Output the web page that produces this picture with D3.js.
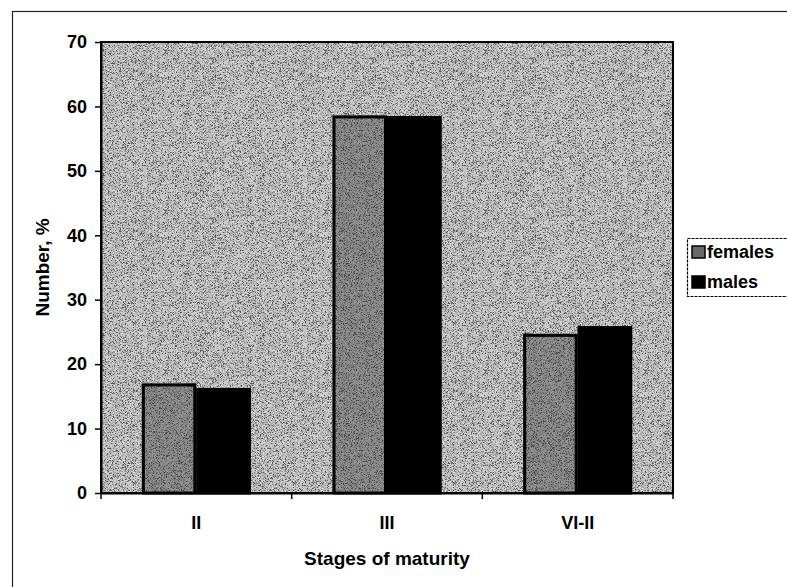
<!DOCTYPE html>
<html>
<head>
<meta charset="utf-8">
<script src="https://cdn.jsdelivr.net/npm/d3@7/dist/d3.min.js"></script>
<style>
  html, body { margin: 0; padding: 0; background: #ffffff; }
  svg { display: block; }
  text { font-family: "Liberation Sans", Arial, sans-serif; font-weight: bold; fill: #000; }
</style>
</head>
<body>
<svg id="chart" width="787" height="587"></svg>
<script>
// ---- data ----
const categories = ["II", "III", "VI-II"];
const seriesNames = ["females", "males"];
const females = [17.0, 58.6, 24.7];
const males = [16.3, 58.5, 25.9];
const yTicks = [0, 10, 20, 30, 40, 50, 60, 70];
const xTitle = "Stages of maturity";
const yTitle = "Number, %";

// ---- layout ----
const W = 787, H = 587;
const plot = { left: 101, right: 673, top: 42, bottom: 493 };
const colors = { females: "#6a6a6a", males: "#000000" };

const svg = d3.select("#chart");

// filter for scanned speckle texture
const defs = svg.append("defs");
const f = defs.append("filter").attr("id", "speckle")
  .attr("x", 0).attr("y", 0).attr("width", 1).attr("height", 1)
  .attr("filterUnits", "objectBoundingBox");
f.append("feTurbulence").attr("type", "fractalNoise").attr("baseFrequency", 1.6)
  .attr("numOctaves", 1).attr("seed", 7).attr("result", "t");
f.append("feColorMatrix").attr("in", "t").attr("type", "matrix")
  .attr("values", "3.6 0 0 0 -1.3  3.6 0 0 0 -1.3  3.6 0 0 0 -1.3  0 0 0 0 1");

// outer chart border
svg.append("rect")
  .attr("x", 12.5).attr("y", 11.5).attr("width", W + 20).attr("height", H + 20)
  .attr("fill", "none").attr("stroke", "#222").attr("stroke-width", 1.2);

// scales
const x0 = d3.scaleBand().domain(categories).range([plot.left, plot.right]).paddingInner(0).paddingOuter(0);
const x1 = d3.scaleBand().domain(seriesNames).range([0, x0.bandwidth()]).paddingInner(0).paddingOuter(0.75);
const y = d3.scaleLinear().domain([0, 70]).range([plot.bottom, plot.top]);

// plot area background
svg.append("rect")
  .attr("x", plot.left).attr("y", plot.top)
  .attr("width", plot.right - plot.left).attr("height", plot.bottom - plot.top)
  .attr("fill", "#b2b2b2");
svg.append("rect")
  .attr("x", plot.left).attr("y", plot.top)
  .attr("width", plot.right - plot.left).attr("height", plot.bottom - plot.top)
  .attr("filter", "url(#speckle)").attr("opacity", 0.5);

// bars
const rows = categories.map((c, i) => ({ cat: c, values: [
  { s: "females", v: females[i] }, { s: "males", v: males[i] } ] }));

const g = svg.append("g");
const groups = g.selectAll("g.cat").data(rows).join("g")
  .attr("class", "cat")
  .attr("transform", d => `translate(${x0(d.cat)},0)`);

groups.selectAll("rect.bar").data(d => d.values).join("rect")
  .attr("class", "bar")
  .attr("x", d => x1(d.s))
  .attr("y", d => y(d.v))
  .attr("width", x1.bandwidth())
  .attr("height", d => y(0) - y(d.v))
  .attr("fill", d => colors[d.s]);

groups.selectAll("rect.tex").data(d => d.values.filter(v => v.s === "females")).join("rect")
  .attr("class", "tex")
  .attr("x", d => x1(d.s))
  .attr("y", d => y(d.v))
  .attr("width", x1.bandwidth())
  .attr("height", d => y(0) - y(d.v))
  .attr("filter", "url(#speckle)").attr("opacity", 0.3);

groups.selectAll("rect.outline").data(d => d.values).join("rect")
  .attr("class", "outline")
  .attr("x", d => x1(d.s) + 1.5)
  .attr("y", d => y(d.v) + 1.5)
  .attr("width", x1.bandwidth() - 3)
  .attr("height", d => y(0) - y(d.v) - 1.5)
  .attr("fill", "none").attr("stroke", "#000").attr("stroke-width", 3);

// plot border
svg.append("rect")
  .attr("x", plot.left).attr("y", plot.top)
  .attr("width", plot.right - plot.left).attr("height", plot.bottom - plot.top)
  .attr("fill", "none").attr("stroke", "#000").attr("stroke-width", 2);

// y axis
const yAxis = svg.append("g")
  .attr("transform", `translate(${plot.left},0)`)
  .call(d3.axisLeft(y).tickValues(yTicks).tickSize(6).tickSizeOuter(0).tickPadding(8));
yAxis.select(".domain").attr("stroke", "#000").attr("stroke-width", 2);
yAxis.selectAll(".tick line").attr("stroke", "#000").attr("stroke-width", 1.5);
yAxis.selectAll(".tick text").style("font-size", "18px").attr("fill", "#000")
  .style("font-family", "'Liberation Sans', Arial, sans-serif").style("font-weight", "bold");

// x axis (labels at band centers, ticks between categories)
const xAxis = svg.append("g")
  .attr("transform", `translate(0,${plot.bottom})`)
  .call(d3.axisBottom(x0).tickSize(0).tickPadding(23));
xAxis.select(".domain").attr("stroke", "#000").attr("stroke-width", 2);
xAxis.selectAll(".tick text").style("font-size", "18px").attr("fill", "#000")
  .style("font-family", "'Liberation Sans', Arial, sans-serif").style("font-weight", "bold");
const boundaries = categories.map(c => x0(c)).concat([x0.range()[1]]);
xAxis.selectAll("line.sep").data(boundaries).join("line")
  .attr("class", "sep")
  .attr("x1", d => d).attr("x2", d => d)
  .attr("y1", 0).attr("y2", 6)
  .attr("stroke", "#000").attr("stroke-width", 1.5);

// axis titles
svg.append("text")
  .attr("x", (plot.left + plot.right) / 2).attr("y", 565)
  .attr("text-anchor", "middle").style("font-size", "19px")
  .text(xTitle);
svg.append("text")
  .attr("transform", `translate(49,${(plot.top + plot.bottom) / 2}) rotate(-90)`)
  .attr("text-anchor", "middle").style("font-size", "19px")
  .text(yTitle);

// legend
const lg = svg.append("g");
lg.append("rect")
  .attr("x", 687.5).attr("y", 238.5).attr("width", 110).attr("height", 58)
  .attr("fill", "#fff").attr("stroke", "#000").attr("stroke-width", 1.2)
  .attr("stroke-dasharray", "3,1");
const li = lg.selectAll("g.item").data(seriesNames).join("g")
  .attr("class", "item")
  .attr("transform", (d, i) => `translate(692,${246 + i * 30})`);
li.append("rect")
  .attr("x", 0).attr("y", 0).attr("width", 13).attr("height", 12)
  .attr("fill", d => colors[d]).attr("stroke", "#000").attr("stroke-width", 1.5);
li.append("text")
  .attr("x", 15).attr("y", 12)
  .style("font-size", "18px")
  .text(d => d);
</script>
</body>
</html>
